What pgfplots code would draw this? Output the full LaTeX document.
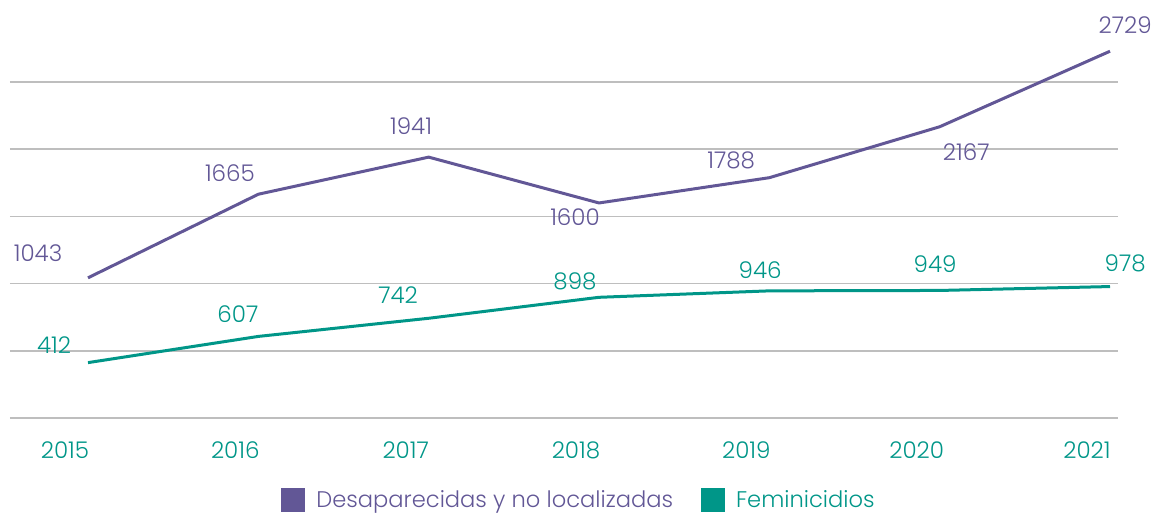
\documentclass[border=0pt]{standalone}
\usepackage{fontspec}
\setmainfont{Poppins}[UprightFont=* Light]
\usepackage{pgfplots}
\pgfplotsset{compat=1.18}
\definecolor{purp}{RGB}{98,87,150}
\definecolor{teal}{RGB}{0,150,136}
\definecolor{gridc}{RGB}{190,190,190}
\begin{document}
\begin{tikzpicture}[font=\fontsize{11.5}{13}\selectfont]
\path[use as bounding box] (0,0) rectangle (577.5pt,256.5pt);
\begin{axis}[
  at={(5pt,47.5pt)}, anchor=south west,
  scale only axis, width=554pt, height=206.5pt,
  xmin=-0.458, xmax=6.047, ymin=0, ymax=3073,
  axis line style={draw=none}, major tick style={draw=none},
  ytick={0,500,1000,1500,2000,2500}, yticklabels={},
  ymajorgrids, grid style={gridc, line width=0.75pt},
  xtick={0,1,2,3,4,5,6},
  xticklabels={2015,2016,2017,2018,2019,2020,2021},
  xticklabel style={text=teal, anchor=center, yshift=-16pt, xshift=-11.5pt},
  /pgf/number format/assume math mode=true,
  clip=false,
  legend columns=2,
  legend style={at={(0.5144,-0.199)}, anchor=center, draw=none, fill=none, inner sep=0pt,
    nodes={inner ysep=1pt},
    font=\fontsize{11.3}{13}\selectfont,
    /tikz/every even column/.append style={column sep=12pt}},
  legend image code/.code={\fill[#1] (0pt,-5.25pt) rectangle (10.5pt,5.25pt); \path (14pt,0);},
]
\addplot[purp, line width=1.5pt] coordinates {(0,1043) (1,1665) (2,1941) (3,1600) (4,1788) (5,2167) (6,2729)};
\addlegendentry{\textcolor{purp}{Desaparecidas y no localizadas}}
\addplot[teal, line width=1.5pt] coordinates {(0,412) (1,607) (2,742) (3,898) (4,946) (5,949) (6,978)};
\addlegendentry{\textcolor{teal}{Feminicidios}}

\begin{scope}[every node/.style={text=purp}]
\node[xshift=-25pt,yshift=12.4pt] at (axis cs:0,1043) {1043};
\node[xshift=-14.2pt,yshift=10.6pt] at (axis cs:1,1665) {1665};
\node[xshift=-8.8pt,yshift=15.6pt] at (axis cs:2,1941) {1941};
\node[xshift=-12pt,yshift=-7pt] at (axis cs:3,1600) {1600};
\node[xshift=-19.1pt,yshift=8.9pt] at (axis cs:4,1788) {1788};
\node[xshift=13.3pt,yshift=-12.6pt] at (axis cs:5,2167) {2167};
\node[xshift=7.6pt,yshift=13.1pt] at (axis cs:6,2729) {2729};
\end{scope}
\begin{scope}[every node/.style={text=teal}]
\node[xshift=-17pt,yshift=8.8pt] at (axis cs:0,412) {412};
\node[xshift=-10.2pt,yshift=11.2pt] at (axis cs:1,607) {607};
\node[xshift=-15.3pt,yshift=11.7pt] at (axis cs:2,742) {742};
\node[xshift=-12pt,yshift=8.2pt] at (axis cs:3,898) {898};
\node[xshift=-4.6pt,yshift=10.5pt] at (axis cs:4,946) {946};
\node[xshift=-2.3pt,yshift=13.3pt] at (axis cs:5,949) {949};
\node[xshift=7.6pt,yshift=11.8pt] at (axis cs:6,978) {978};
\end{scope}
\end{axis}
\end{tikzpicture}
\end{document}
